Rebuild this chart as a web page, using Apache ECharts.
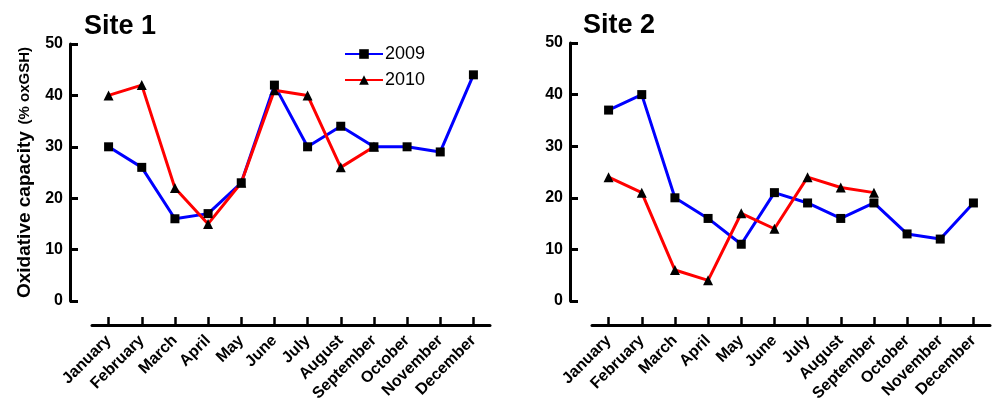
<!DOCTYPE html>
<html>
<head>
<meta charset="utf-8">
<script src="https://cdn.jsdelivr.net/npm/echarts@6/dist/echarts.min.js"></script>
<style>
html,body{margin:0;padding:0;background:#fff;}
#c{width:992px;height:408px;}
</style>
</head>
<body>
<div id="c"></div>
<script>
const months = ['January','February','March','April','May','June','July','August','September','October','November','December'];
const yTicks = [0, 10, 20, 30, 40, 50];
const site1_2009 = [30, 26, 16, 17, 23, 42, 30, 34, 30, 30, 29, 44];
const site1_2010 = [40, 42, 22, 15, 23, 41, 40, 26, 30, null, null, null];
const site2_2009 = [37, 40, 20, 16, 11, 21, 19, 16, 19, 13, 12, 19];
const site2_2010 = [24, 21, 6, 4, 17, 14, 24, 22, 21, null, null, null];

const FONT = 'Liberation Sans, Arial, sans-serif';
const YMIN = yTicks[0], YMAX = yTicks[yTicks.length - 1];
const chart = echarts.init(document.getElementById('c'));

// grids 0,1: data grids; grids 2,3: axis-only grids holding the visible y axes
function xAx(gi) {
  return {
    type: 'category', gridIndex: gi, data: months, offset: 24,
    boundaryGap: true,
    axisLine: { onZero: false, lineStyle: { color: '#000', width: 3 } },
    axisTick: { show: true, inside: true, length: 8, alignWithLabel: true, interval: 0, lineStyle: { color: '#000', width: 2.5 } },
    axisLabel: { rotate: 45, margin: 13, color: '#000', fontFamily: FONT, fontWeight: 'bold', fontSize: 16, interval: 0 }
  };
}
function xHidden(gi) {
  return { type: 'value', gridIndex: gi, min: 0, max: 1, show: false };
}
function yHidden(gi) {
  return { type: 'value', gridIndex: gi, min: YMIN, max: YMAX, interval: 10, show: false };
}
function yAx(gi, withName) {
  const o = {
    type: 'value', gridIndex: gi, min: YMIN, max: YMAX, interval: 10,
    splitLine: { show: true, lineStyle: { color: 'rgba(0,0,0,0)', width: 0 } },
    axisLine: { show: true, lineStyle: { color: '#000', width: 3 } },
    axisTick: { show: true, inside: true, length: 8, lineStyle: { color: '#000', width: 3 } },
    axisLabel: { margin: 7, color: '#000', fontFamily: FONT, fontWeight: 'bold', fontSize: 16 }
  };
  if (withName) {
    o.name = '{a|Oxidative capacity}  {b|(% oxGSH)}';
    o.nameLocation = 'middle';
    o.nameRotate = 90;
    o.nameGap = 36;
    o.nameTextStyle = {
      color: '#000', fontFamily: FONT,
      rich: {
        a: { fontSize: 19, fontWeight: 'bold', color: '#000', fontFamily: FONT },
        b: { fontSize: 15, fontWeight: 'bold', color: '#000', fontFamily: FONT }
      }
    };
  }
  return o;
}
function ser(name, data, gi, color, symbol, size) {
  return {
    name: name, type: 'line', xAxisIndex: gi, yAxisIndex: gi, data: data,
    symbol: symbol, symbolSize: size, showAllSymbol: true,
    connectNulls: false,
    lineStyle: { color: color, width: 3 },
    itemStyle: { color: '#000', borderWidth: 0 },
    emphasis: { disabled: true },
    animation: false
  };
}

chart.setOption({
  animation: false,
  backgroundColor: '#fff',
  title: [
    { text: 'Site 1', left: 79, top: 8, textStyle: { fontFamily: FONT, fontWeight: 'bold', fontSize: 27, color: '#000' } },
    { text: 'Site 2', left: 578, top: 7, textStyle: { fontFamily: FONT, fontWeight: 'bold', fontSize: 27, color: '#000' } }
  ],
  legend: {
    data: ['2009', '2010'], orient: 'vertical', left: 339, top: 40,
    itemWidth: 38, itemHeight: 12, itemGap: 8,
    textStyle: { fontFamily: FONT, fontSize: 18, color: '#000', padding: [0, 0, 0, -3] },
    selectedMode: false
  },
  grid: [
    { left: 92, top: 44, width: 398, height: 257, containLabel: false },
    { left: 592, top: 43, width: 398, height: 258, containLabel: false },
    { left: 70, top: 44, width: 420, height: 257, containLabel: false },
    { left: 570, top: 43, width: 420, height: 258, containLabel: false }
  ],
  xAxis: [xAx(0), xAx(1), xHidden(2), xHidden(3)],
  yAxis: [yHidden(0), yHidden(1), yAx(2, true), yAx(3, false)],
  series: [
    ser('2009', site1_2009, 0, '#0000ff', 'rect', 9),
    ser('2010', site1_2010, 0, '#ff0000', 'triangle', 10),
    ser('2009', site2_2009, 1, '#0000ff', 'rect', 9),
    ser('2010', site2_2010, 1, '#ff0000', 'triangle', 10)
  ]
});
</script>
</body>
</html>
